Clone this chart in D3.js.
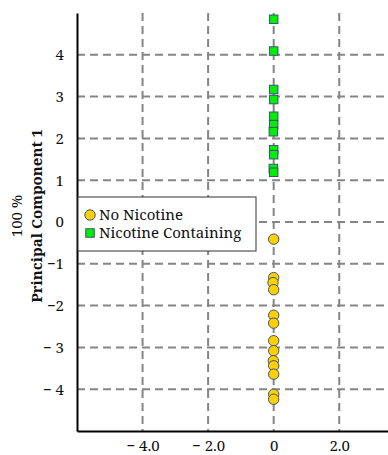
<!DOCTYPE html>
<html lang="en">
<head>
    <meta charset="utf-8">
    <script type="text/javascript" src="https://d3js.org/d3.v7.min.js"></script>
    <style>
        body { margin: 0; background: #fff; }
    </style>
</head>
<body>
<div id="chart"></div>
<script type="text/javascript">
  // values (x near zero for every sample; y is PC1)
  const noNicX = [0, 0, -0.02, 0, 0, 0, 0, 0, -0.01, 0, 0, 0, 0];
  const noNicY = [-0.41, -1.33, -1.45, -1.62, -2.23, -2.42, -2.84, -3.08, -3.32, -3.44, -3.64, -4.12, -4.24];
  const nicX = [0, 0, 0, 0, 0, 0, -0.01, 0, 0, -0.01, 0];
  const nicY = [4.85, 4.09, 3.17, 2.93, 2.53, 2.33, 2.16, 1.73, 1.61, 1.28, 1.19];

  const seriesNames = ["No Nicotine", "Nicotine Containing"];
  const xTicks = [-4, -2, 0, 2];
  const xTickLabels = ["\u2212 4.0", "\u2212 2.0", "0", "2.0"];
  const yTicks = [-4, -3, -2, -1, 0, 1, 2, 3, 4];
  const yTickLabels = ["\u2212 4", "\u2212 3", "\u22122", "\u22121", "0", "1", "2", "3", "4"];
  const yTitle = "Principal Component 1";
  const ySubTitle = "100 %";

  const FONT = "'Noto Serif', 'Liberation Serif', serif";
  const svgWidth = 388, svgHeight = 455;
  const margin = {top: 13, left: 77, bottom: 24};
  const unitX = 32.78;

  const svg = d3.select("#chart")
    .append("svg")
    .attr("width", svgWidth)
    .attr("height", svgHeight);

  const x = d3.scaleLinear().domain([-6, 6]).range([margin.left, margin.left + 12 * unitX]);
  const y = d3.scaleLinear().domain([-5, 5]).range([svgHeight - margin.bottom, margin.top]);

  const gridColor = "#858585";

  // grid (x=4 line falls outside the window, like the source)
  svg.append("g").selectAll("line").data(xTicks.concat([4])).enter().append("line")
    .attr("x1", d => x(d)).attr("x2", d => x(d))
    .attr("y1", y(5)).attr("y2", y(-5))
    .attr("stroke", gridColor).attr("stroke-width", 2)
    .attr("stroke-dasharray", "8,5");

  svg.append("g").selectAll("line").data(yTicks).enter().append("line")
    .attr("x1", x(-6)).attr("x2", x(6))
    .attr("y1", d => y(d)).attr("y2", d => y(d))
    .attr("stroke", gridColor).attr("stroke-width", 2)
    .attr("stroke-dasharray", "8,5");

  // axes
  const xAxis = svg.append("g")
    .attr("transform", "translate(0," + y(-5) + ")")
    .call(d3.axisBottom(x).tickValues(xTicks).tickSize(0)
      .tickFormat((d, i) => xTickLabels[i]));
  xAxis.select(".domain").attr("stroke", "#000").attr("stroke-width", 2);
  xAxis.selectAll("text")
    .attr("y", 20).attr("dy", 0)
    .style("font-family", FONT)
    .style("font-size", "15px").attr("fill", "#111");

  const yAxis = svg.append("g")
    .attr("transform", "translate(" + x(-6) + ",0)")
    .call(d3.axisLeft(y).tickValues(yTicks).tickSize(0)
      .tickFormat((d, i) => yTickLabels[i]));
  yAxis.select(".domain").attr("stroke", "#000").attr("stroke-width", 2);
  yAxis.selectAll("text")
    .attr("x", -13)
    .style("font-family", FONT)
    .style("font-size", "15px").attr("fill", "#111");

  // axis titles
  const midY = 216;
  svg.append("text")
    .attr("transform", "translate(42," + midY + ") rotate(-90)")
    .attr("text-anchor", "middle")
    .style("font-family", FONT)
    .style("font-size", "15px").style("font-weight", "bold")
    .attr("fill", "#111")
    .text(yTitle);
  svg.append("text")
    .attr("transform", "translate(22," + midY + ") rotate(-90)")
    .attr("text-anchor", "middle")
    .style("font-family", FONT)
    .style("font-size", "15px")
    .attr("fill", "#111")
    .text(ySubTitle);

  // points
  const circleFill = "#ffd000", squareFill = "#00ee00", markStroke = "#3b5575";
  const noNic = noNicY.map((v, i) => ({x: noNicX[i], y: v}));
  const nic = nicY.map((v, i) => ({x: nicX[i], y: v}));

  svg.append("g").selectAll("circle").data(noNic).enter().append("circle")
    .attr("cx", d => x(d.x)).attr("cy", d => y(d.y)).attr("r", 5.2)
    .attr("fill", circleFill).attr("stroke", markStroke).attr("stroke-width", 1);

  const sq = 8.5;
  svg.append("g").selectAll("rect").data(nic).enter().append("rect")
    .attr("x", d => x(d.x) - sq / 2).attr("y", d => y(d.y) - sq / 2)
    .attr("width", sq).attr("height", sq)
    .attr("fill", squareFill).attr("stroke", markStroke).attr("stroke-width", 1);

  // legend
  const lg = svg.append("g").attr("transform", "translate(78,197)");
  lg.append("rect").attr("width", 178).attr("height", 54)
    .attr("fill", "#fff").attr("stroke", "#333").attr("stroke-width", 1);
  lg.append("circle").attr("cx", 12).attr("cy", 18).attr("r", 5.2)
    .attr("fill", circleFill).attr("stroke", markStroke);
  lg.append("rect").attr("x", 12 - sq / 2).attr("y", 36 - sq / 2).attr("width", sq).attr("height", sq)
    .attr("fill", squareFill).attr("stroke", markStroke);
  lg.selectAll("text.lab").data(seriesNames).enter().append("text")
    .attr("class", "lab")
    .attr("x", 21).attr("y", (d, i) => 23 + i * 18)
    .style("font-family", FONT)
    .style("font-size", "15px").attr("fill", "#111")
    .text(d => d);
</script>
</body>
</html>
